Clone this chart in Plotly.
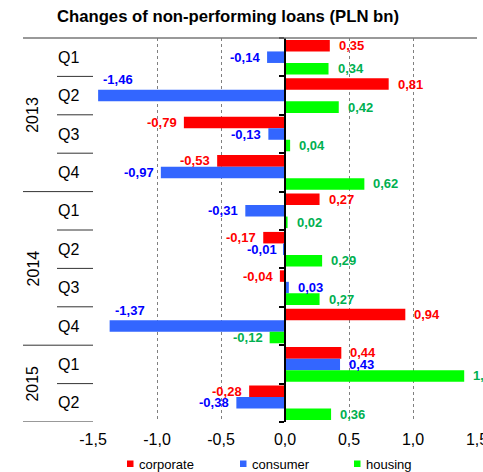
import plotly.graph_objects as go

# Quarterly changes of non-performing loans, PLN bn
years = ["2013", "2013", "2013", "2013", "2014", "2014", "2014", "2014", "2015", "2015"]
quarters = ["Q1", "Q2", "Q3", "Q4", "Q1", "Q2", "Q3", "Q4", "Q1", "Q2"]
corporate = [0.35, 0.81, -0.79, -0.53, 0.27, -0.17, -0.04, 0.94, 0.44, -0.28]
consumer = [-0.14, -1.46, -0.13, -0.97, -0.31, -0.01, 0.03, -1.37, 0.43, -0.38]
housing = [0.34, 0.42, 0.04, 0.62, 0.02, 0.29, 0.27, -0.12, 1.40, 0.36]
x_ticks = [-1.5, -1.0, -0.5, 0.0, 0.5, 1.0, 1.5]

series = [
    ("corporate", corporate, "#FF0000", "#FF0000"),
    ("consumer", consumer, "#3366FF", "#0000FF"),
    ("housing", housing, "#00FF00", "#00B050"),
]

W, H = 483, 472
ML, MR, MT, MB = 93, 6, 38, 50
PW = W - ML - MR
PH = H - MT - MB
XMIN, XMAX = x_ticks[0], x_ticks[-1]
FONT = "Liberation Sans, Arial, sans-serif"


def px_x(px):
    return (px - ML) / PW


def px_y(py):
    return (MT + PH - py) / PH


def fmt(v, nd):
    return f"{v:.{nd}f}".replace(".", ",")


idx = list(range(len(quarters)))
fig = go.Figure()
for name, vals, bar_col, _ in series:
    fig.add_trace(go.Bar(
        x=vals, y=idx, orientation="h", name=name,
        marker=dict(color=bar_col, line=dict(width=0)),
        showlegend=False,
    ))

annotations = []
shapes = []

# value labels next to each bar
bar_px = PH / len(quarters) * 0.9 / 3
for k, (name, vals, _, txt_col) in enumerate(series):
    shift = (1 - k) * bar_px
    for i, v in enumerate(vals):
        label = fmt(v, 2)
        ann = dict(x=v, y=i, xref="x", yref="y", text=label, showarrow=False,
                   font=dict(family=FONT, size=13, color=txt_col, weight="bold"),
                   yshift=shift)
        if v < 0 and v < XMIN + 0.25:
            # no room at the left edge: put the label above the bar end
            ann.update(xanchor="left", xshift=3, yshift=shift + 16)
        elif v >= 0:
            ann.update(xanchor="left", xshift=7)
        else:
            ann.update(xanchor="right", xshift=-5)
        annotations.append(ann)

# category labels: quarters and rotated years
for i, q in enumerate(quarters):
    annotations.append(dict(x=px_x(68), y=i, xref="paper", yref="y", text=q,
                            showarrow=False, xanchor="center", yanchor="middle",
                            font=dict(family=FONT, size=16, color="#000000")))
year_order = []
for y in years:
    if y not in year_order:
        year_order.append(y)
for y in year_order:
    members = [i for i, yy in enumerate(years) if yy == y]
    annotations.append(dict(x=px_x(33), y=sum(members) / len(members), xref="paper",
                            yref="y", text=y, textangle=-90, showarrow=False,
                            xanchor="center", yanchor="middle",
                            font=dict(family=FONT, size=16, color="#000000")))

# separators of the category table
line_col = "#333333"
for i in range(1, len(quarters)):
    new_year = years[i] != years[i - 1]
    shapes.append(dict(type="line", xref="paper", yref="y",
                       x0=px_x(23 if new_year else 57), x1=0,
                       y0=i - 0.5, y1=i - 0.5,
                       line=dict(color=line_col, width=1)))
shapes.append(dict(type="line", xref="paper", yref="y", x0=px_x(23), x1=0,
                   y0=len(quarters) - 0.5, y1=len(quarters) - 0.5,
                   line=dict(color=line_col, width=1)))
shapes.append(dict(type="line", xref="paper", yref="paper", x0=px_x(23), x1=1,
                   y0=1, y1=1, line=dict(color="#777777", width=1.5)))

# legend
legend_items = [(127, 137), (240, 250), (354, 364)]
for (sq_x, tx_x), (name, _, bar_col, _) in zip(legend_items, series):
    shapes.append(dict(type="rect", xref="paper", yref="paper",
                       x0=px_x(sq_x), x1=px_x(sq_x + 6.5),
                       y0=px_y(467), y1=px_y(460.5),
                       fillcolor=bar_col, line=dict(width=0)))
    annotations.append(dict(x=px_x(tx_x), y=px_y(464), xref="paper", yref="paper",
                            text=name, showarrow=False, xanchor="left",
                            yanchor="middle",
                            font=dict(family=FONT, size=13, color="#000000")))

fig.update_layout(
    width=W, height=H,
    margin=dict(l=ML, r=MR, t=MT, b=MB, pad=0, autoexpand=False),
    paper_bgcolor="#FFFFFF", plot_bgcolor="#FFFFFF",
    barmode="group", bargap=0.1, bargroupgap=0,
    title=dict(text="Changes of non-performing loans (PLN bn)",
               x=228 / W, xanchor="center", xref="container",
               y=1 - 16 / H, yanchor="middle",
               font=dict(family=FONT, size=16.7, color="#000000", weight="bold")),
    xaxis=dict(range=[XMIN, XMAX], tickvals=x_ticks,
               ticktext=[fmt(t, 1) for t in x_ticks],
               showgrid=True, gridcolor="#808080", griddash="dot", gridwidth=1,
               zeroline=False, showline=False, ticks="", automargin=False,
               ticklabeloverflow="allow", ticklabelstandoff=6,
               tickfont=dict(family=FONT, size=16, color="#000000")),
    yaxis=dict(type="linear", range=[len(quarters) - 0.5, -0.5],
               tickvals=[i - 0.5 for i in range(len(quarters) + 1)],
               showticklabels=False, showgrid=False, zeroline=False,
               showline=True, linecolor="#000000", linewidth=1.5,
               ticks="outside", ticklen=5, tickcolor="#000000", tickwidth=1.5,
               automargin=False,
               anchor="free", position=px_x(ML + PW * (0 - XMIN) / (XMAX - XMIN))),
    annotations=annotations,
    shapes=shapes,
)

fig.write_html("out.html")
